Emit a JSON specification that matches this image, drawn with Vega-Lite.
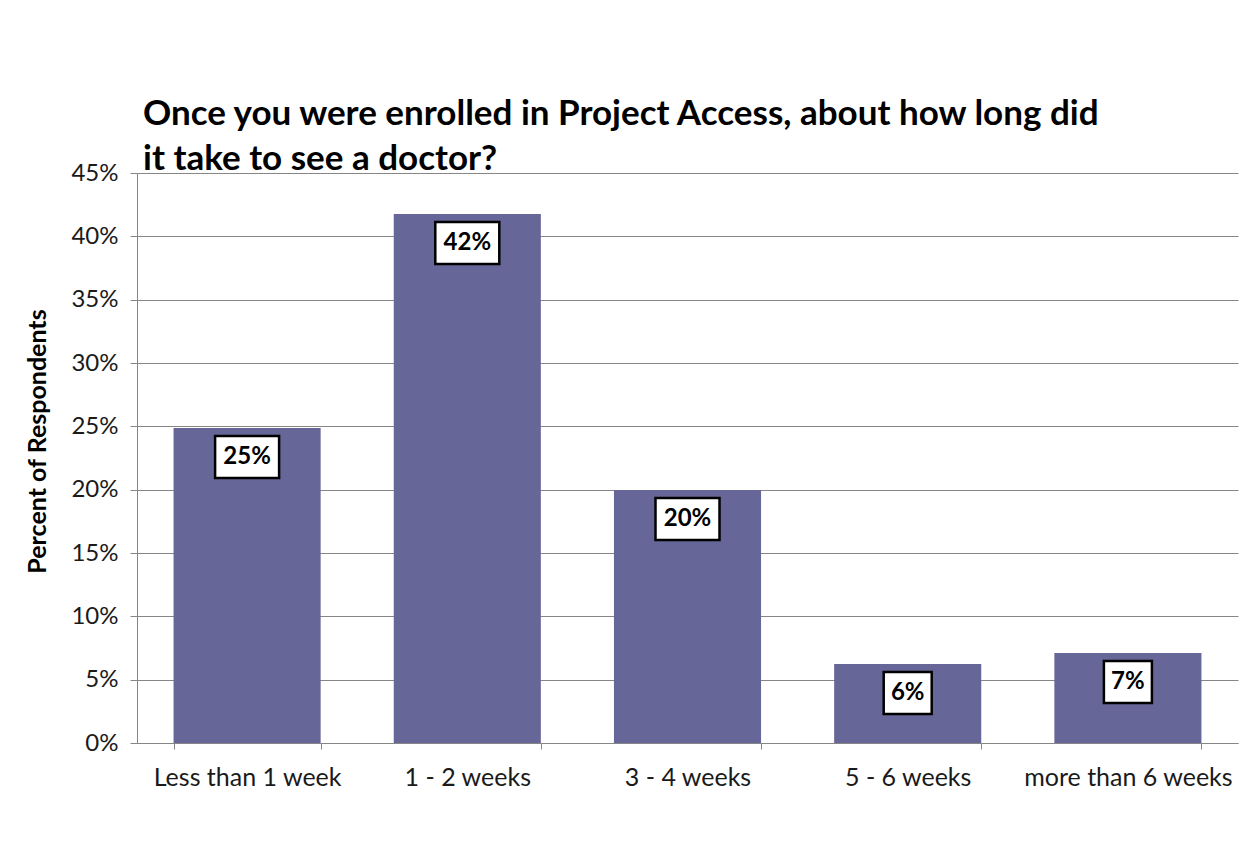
{
  "$schema": "https://vega.github.io/schema/vega-lite/v6.json",
  "width": 1101,
  "height": 570,
  "autosize": {"type": "none"},
  "padding": {"left": 137, "top": 173, "right": 11, "bottom": 108},
  "background": "white",
  "title": {
    "text": ["Once you were enrolled in Project Access, about how long did", "it take to see a doctor?"],
    "anchor": "start",
    "frame": "group",
    "dx": 6,
    "offset": -16,
    "font": "Lato",
    "fontSize": 35,
    "fontWeight": "bold",
    "color": "black",
    "lineHeight": 45
  },
  "data": {
    "values": [
      {"category": "Less than 1 week", "value": 0.2487},
      {"category": "1 - 2 weeks", "value": 0.4176},
      {"category": "3 - 4 weeks", "value": 0.1997},
      {"category": "5 - 6 weeks", "value": 0.0624},
      {"category": "more than 6 weeks", "value": 0.071}
    ]
  },
  "encoding": {
    "x": {
      "field": "category",
      "type": "nominal",
      "sort": null,
      "scale": {"paddingInner": 0.332, "paddingOuter": 0.166},
      "axis": {
        "title": null,
        "labelAngle": 0,
        "labelFont": "Lato",
        "labelFontSize": 25,
        "labelLimit": 0,
        "labelColor": "#1a1a1a",
        "labelPadding": 16,
        "tickBand": "extent",
        "tickSize": 6,
        "tickColor": "#868686",
        "domainColor": "#868686",
        "grid": false
      }
    },
    "y": {
      "field": "value",
      "type": "quantitative",
      "scale": {"domain": [0, 0.45], "nice": false},
      "axis": {
        "values": [0, 0.05, 0.1, 0.15, 0.2, 0.25, 0.3, 0.35, 0.4, 0.45],
        "format": ".0%",
        "title": "Percent of Respondents",
        "titleFont": "Lato",
        "titleFontSize": 25,
        "titleFontWeight": "bold",
        "titleColor": "black",
        "titlePadding": 20,
        "titleY": 268,
        "labelFont": "Lato",
        "labelFontSize": 24,
        "labelColor": "#1a1a1a",
        "labelPadding": 12,
        "tickSize": 7,
        "tickColor": "#868686",
        "domainColor": "#868686",
        "gridColor": "#868686",
        "gridWidth": 1
      }
    }
  },
  "layer": [
    {"mark": {"type": "bar", "color": "#666699"}},
    {
      "mark": {"type": "bar", "fill": "white", "stroke": "black", "strokeWidth": 2.5, "yOffset": 8, "y2Offset": 50},
      "encoding": {
        "y2": {"field": "value"},
        "size": {"condition": {"test": "datum.value < 0.1", "value": 48}, "value": 64}
      }
    },
    {
      "mark": {"type": "text", "font": "Lato", "fontSize": 24, "fontWeight": "bold", "color": "black", "baseline": "middle", "dy": 29},
      "encoding": {"text": {"field": "value", "type": "quantitative", "format": ".0%"}}
    }
  ],
  "config": {"view": {"stroke": null}}
}
